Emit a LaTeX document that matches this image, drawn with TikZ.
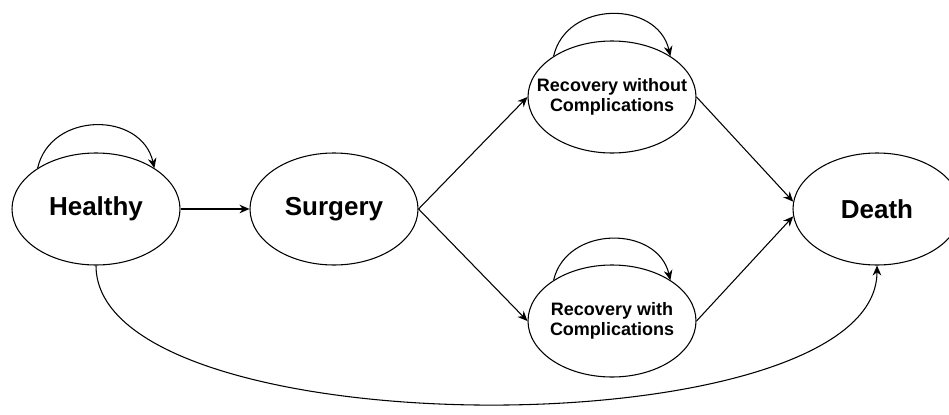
\documentclass[tikz,border=0pt]{standalone}
\usepackage{fontspec}
\setmainfont{Liberation Sans}
\usetikzlibrary{arrows.meta,shapes.geometric}
\begin{document}
\begin{tikzpicture}[x=0.75pt,y=-0.75pt,
  state/.style={draw, ellipse, line width=0.8pt, minimum width=126pt, minimum height=84pt, inner sep=0pt, font=\bfseries\fontsize{19.5}{22}\selectfont},
  smallstate/.style={state, font=\bfseries\fontsize{13.5}{15}\selectfont},
  conn/.style={line width=0.8pt, -{Stealth[length=7.5pt,width=6.5pt]}},
  selfloop/.style={conn}
]
\clip (0,0) rectangle (949,414);
\fill[white] (0,0) rectangle (949,414);
\node[state] (H) at (96,209) {\makebox[0pt]{Healthy}};
\node[state] (S) at (334,209) {\makebox[0pt]{Surgery}};
\node[smallstate] (RWO) at (612,97) {\makebox[0pt]{\begin{tabular}{@{}c@{}}Recovery without\\Complications\end{tabular}}};
\node[smallstate] (RWC) at (612,321) {\makebox[0pt]{\begin{tabular}{@{}c@{}}Recovery with\\Complications\end{tabular}}};
\node[state] (D) at (877,209) {\makebox[0pt]{Death}};
\draw[selfloop] (H.145) .. controls +(13,-57) and +(-13,-57) .. (H.35);
\draw[selfloop] (RWO.145) .. controls +(13,-56) and +(-13,-56) .. (RWO.35);
\draw[selfloop] (RWC.145) .. controls +(13,-55) and +(-13,-55) .. (RWC.35);
\draw[conn] (H.east) -- (S.west);
\draw[conn] (S.east) -- (RWO.west);
\draw[conn] (S.east) -- (RWC.west);
\draw[conn] (RWO.east) -- (D.175);
\draw[conn] (RWC.east) -- (D.185);
\draw[conn] (H.south) .. controls +(0,185) and +(0,185) .. (D.south);
\end{tikzpicture}
\end{document}
